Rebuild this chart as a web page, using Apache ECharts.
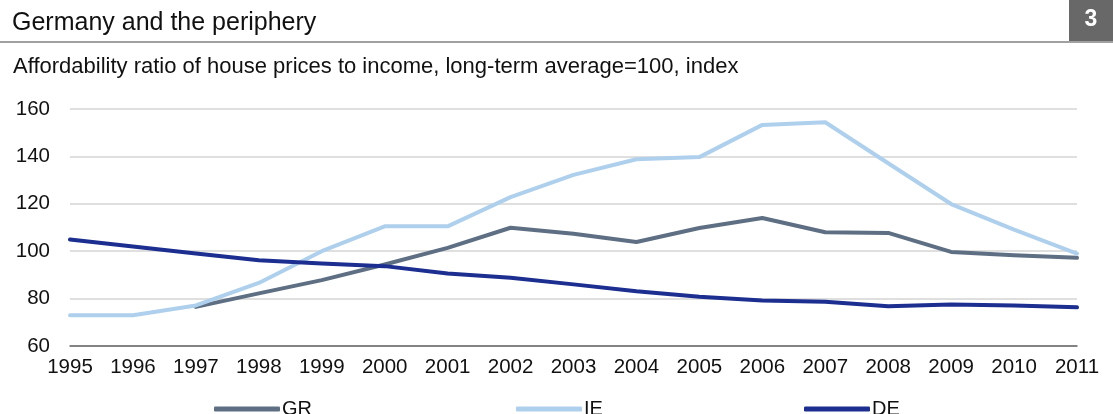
<!DOCTYPE html>
<html>
<head>
<meta charset="utf-8">
<script src="https://cdn.jsdelivr.net/npm/echarts@6/dist/echarts.min.js"></script>
<style>
html,body{margin:0;padding:0;background:#fff;}
#chart{width:1113px;height:414px;}
</style>
</head>
<body>
<div id="chart"></div>
<script>
const years = ['1995','1996','1997','1998','1999','2000','2001','2002','2003','2004','2005','2006','2007','2008','2009','2010','2011'];
const grValues = [null, null, 76.5, 82.2, 87.8, 94.4, 101.4, 109.9, 107.4, 103.9, 109.8, 114.0, 108.0, 107.7, 99.7, 98.3, 97.2];
const ieValues = [73.0, 73.0, 77.1, 86.6, 100.0, 110.5, 110.5, 122.8, 132.2, 138.8, 139.7, 153.3, 154.4, 137.1, 119.9, 109.1, 99.0];
const deValues = [104.9, 102.0, 99.0, 96.2, 94.8, 93.7, 90.6, 88.8, 86.0, 83.1, 80.8, 79.2, 78.7, 76.8, 77.5, 77.1, 76.3];
const seriesNames = ['GR', 'IE', 'DE'];
const yTicks = [60, 80, 100, 120, 140, 160];

const colors = {GR: '#5e6f84', IE: '#afd0ed', DE: '#1c2e90'};
const FONT = '"Liberation Sans", Arial, sans-serif';

const chart = echarts.init(document.getElementById('chart'), null, {renderer: 'canvas'});

function lineSeries(name, data, z) {
  return {
    name: name, type: 'line', data: data, showSymbol: false, symbol: 'none',
    connectNulls: false, z: z,
    lineStyle: {color: colors[name], width: 4, cap: 'round', join: 'round'},
    itemStyle: {color: colors[name]},
    emphasis: {disabled: true}
  };
}

function legendAt(name, left) {
  return {
    data: [name], left: left, top: 394, icon: 'roundRect',
    itemWidth: 66, itemHeight: 5, itemGap: 0,
    textStyle: {fontFamily: FONT, fontSize: 20, color: '#111', padding: [0, 0, 0, -3]},
    selectedMode: false
  };
}

chart.setOption({
  animation: false,
  backgroundColor: '#fff',
  title: [
    {text: 'Germany and the periphery', left: 7, top: 6,
     textStyle: {fontFamily: FONT, fontSize: 25, fontWeight: 'normal', color: '#111'}},
    {text: 'Affordability ratio of house prices to income, long-term average=100, index', left: 8, top: 51,
     textStyle: {fontFamily: FONT, fontSize: 22, fontWeight: 'normal', color: '#111'}}
  ],
  graphic: [
    {type: 'line', shape: {x1: 0, y1: 42, x2: 1113, y2: 42}, style: {stroke: '#a0a0a0', lineWidth: 2}, z: 1},
    {type: 'rect', shape: {x: 1069, y: 0, width: 44, height: 41}, style: {fill: '#686868'}, z: 2},
    {type: 'text', x: 1091, y: 20, style: {text: '3', fill: '#fff', font: 'bold 23px ' + FONT, textAlign: 'center', textVerticalAlign: 'middle'}, z: 3}
  ],
  legend: [legendAt('GR', 209), legendAt('IE', 511), legendAt('DE', 799)],
  grid: {left: 70, right: 36, top: 109, bottom: 68, containLabel: false},
  xAxis: {
    type: 'category', data: years, boundaryGap: false,
    axisLine: {show: true, lineStyle: {color: '#666', width: 1.5}},
    axisTick: {show: false},
    axisLabel: {fontFamily: FONT, fontSize: 20.5, color: '#111', margin: 11, interval: 0}
  },
  yAxis: {
    type: 'value', min: 60, max: 160, interval: 20,
    axisLine: {show: false}, axisTick: {show: false},
    axisLabel: {fontFamily: FONT, fontSize: 20.5, color: '#111', margin: 20,
      formatter: v => yTicks.includes(v) ? String(v) : ''},
    splitLine: {lineStyle: {color: '#d4d4d4', width: 1.5}}
  },
  series: [
    lineSeries('GR', grValues, 2),
    lineSeries('IE', ieValues, 3),
    lineSeries('DE', deValues, 4)
  ]
});
</script>
</body>
</html>
